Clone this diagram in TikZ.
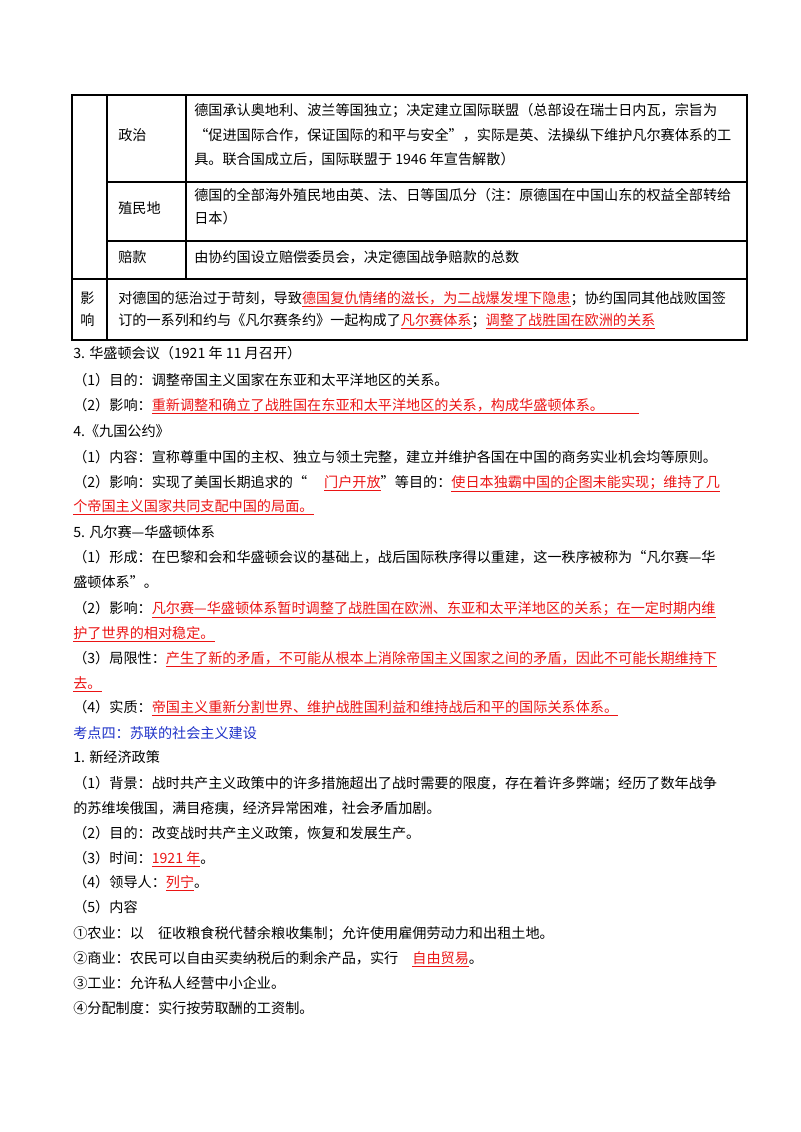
\documentclass[tikz,border=0pt]{standalone}
\usepackage{fontspec}
\setmainfont{Noto Sans CJK SC}
\usetikzlibrary{positioning}
\definecolor{keyred}{RGB}{235,20,20}
\definecolor{keyblue}{RGB}{30,50,200}
\newcommand{\ans}[1]{\textcolor{keyred}{\underline{#1}}}
\tikzset{
  txt/.style={anchor=base west,inner sep=0pt,font=\fontsize{10.6pt}{13pt}\selectfont},
  rule/.style={line width=0.8pt}
}
\begin{document}
\begin{tikzpicture}[x=0.75pt,y=-0.75pt]
\useasboundingbox (0,0) rectangle (800,1132);

% table frame
\draw[rule] (72,95) rectangle (747,340);
\draw[rule] (107,95) -- (107,340);
\draw[rule] (186,95) -- (186,279);
\draw[rule] (107,182) -- (747,182);
\draw[rule] (107,241) -- (747,241);
\draw[rule] (72,279) -- (747,279);

% table rows
\node[txt] (zz) at (118,140) {政治};
\node[txt] (zz1) at (194,115) {德国承认奥地利、波兰等国独立；决定建立国际联盟（总部设在瑞士日内瓦，宗旨为};
\node[txt] (zz2) at (194,140) {“促进国际合作，保证国际的和平与安全”，实际是英、法操纵下维护凡尔赛体系的工};
\node[txt] (zz3) at (194,164) {具。联合国成立后，国际联盟于 1946 年宣告解散）};
\node[txt] (zm) at (118,213) {殖民地};
\node[txt] (zm1) at (194,200) {德国的全部海外殖民地由英、法、日等国瓜分（注：原德国在中国山东的权益全部转给};
\node[txt] (zm2) at (194,223) {日本）};
\node[txt] (pk) at (118,262) {赔款};
\node[txt] (pk1) at (194,262) {由协约国设立赔偿委员会，决定德国战争赔款的总数};
\node[txt] (yx) at (80,303) {影};
\node[txt] (yx0) at (80,325) {响};
\node[txt] (yx1) at (118,303) {对德国的惩治过于苛刻，导致\ans{德国复仇情绪的滋长，为二战爆发埋下隐患}；协约国同其他战败国签};
\node[txt] (yx2) at (118,325) {订的一系列和约与《凡尔赛条约》一起构成了\ans{凡尔赛体系}；\ans{调整了战胜国在欧洲的关系}};

% Washington conference
\node[txt] (w0) at (73,358) {3. 华盛顿会议（1921 年 11 月召开）};
\node[txt] (w1) at (73,385) {（1）目的：调整帝国主义国家在东亚和太平洋地区的关系。};
\node[txt] (w2) at (73,410) {（2）影响：\ans{重新调整和确立了战胜国在东亚和太平洋地区的关系，构成华盛顿体系。\hspace{2.5em}}};

% nine-power treaty
\node[txt] (n0) at (73,436) {4.《九国公约》};
\node[txt] (n1) at (73,462) {（1）内容：宣称尊重中国的主权、独立与领土完整，建立并维护各国在中国的商务实业机会均等原则。};
\node[txt] (n2) at (73,487) {（2）影响：实现了美国长期追求的“\hspace{1.2em}\ans{门户开放}”等目的：\ans{使日本独霸中国的企图未能实现；维持了几}};
\node[txt] (n3) at (73,511) {\ans{个帝国主义国家共同支配中国的局面。}};

% Versailles-Washington system
\node[txt] (v0) at (73,537) {5. 凡尔赛—华盛顿体系};
\node[txt] (v1) at (73,562) {（1）形成：在巴黎和会和华盛顿会议的基础上，战后国际秩序得以重建，这一秩序被称为“凡尔赛—华};
\node[txt] (v2) at (73,587) {盛顿体系”。};
\node[txt] (v3) at (73,613) {（2）影响：\ans{凡尔赛—华盛顿体系暂时调整了战胜国在欧洲、东亚和太平洋地区的关系；在一定时期内维}};
\node[txt] (v4) at (73,638) {\ans{护了世界的相对稳定。}};
\node[txt] (v5) at (73,663) {（3）局限性：\ans{产生了新的矛盾，不可能从根本上消除帝国主义国家之间的矛盾，因此不可能长期维持下}};
\node[txt] (v6) at (73,688) {\ans{去。}};
\node[txt] (v7) at (73,712) {（4）实质：\ans{帝国主义重新分割世界、维护战胜国利益和维持战后和平的国际关系体系。}};

% Soviet construction
\node[txt,text=keyblue] (k4) at (73,738) {考点四：苏联的社会主义建设};
\node[txt] (s0) at (73,762) {1. 新经济政策};
\node[txt] (s1) at (73,788) {（1）背景：战时共产主义政策中的许多措施超出了战时需要的限度，存在着许多弊端；经历了数年战争};
\node[txt] (s2) at (73,813) {的苏维埃俄国，满目疮痍，经济异常困难，社会矛盾加剧。};
\node[txt] (s3) at (73,838) {（2）目的：改变战时共产主义政策，恢复和发展生产。};
\node[txt] (s4) at (73,863) {（3）时间：\ans{1921 年}。};
\node[txt] (s5) at (73,887) {（4）领导人：\ans{列宁}。};
\node[txt] (s6) at (73,912) {（5）内容};
\node[txt] (s7) at (73,938) {①农业：以\hspace{1em}征收粮食税代替余粮收集制；允许使用雇佣劳动力和出租土地。};
\node[txt] (s8) at (73,963) {②商业：农民可以自由买卖纳税后的剩余产品，实行\hspace{1em}\ans{自由贸易}。};
\node[txt] (s9) at (73,988) {③工业：允许私人经营中小企业。};
\node[txt] (s10) at (73,1013) {④分配制度：实行按劳取酬的工资制。};
\end{tikzpicture}
\end{document}
